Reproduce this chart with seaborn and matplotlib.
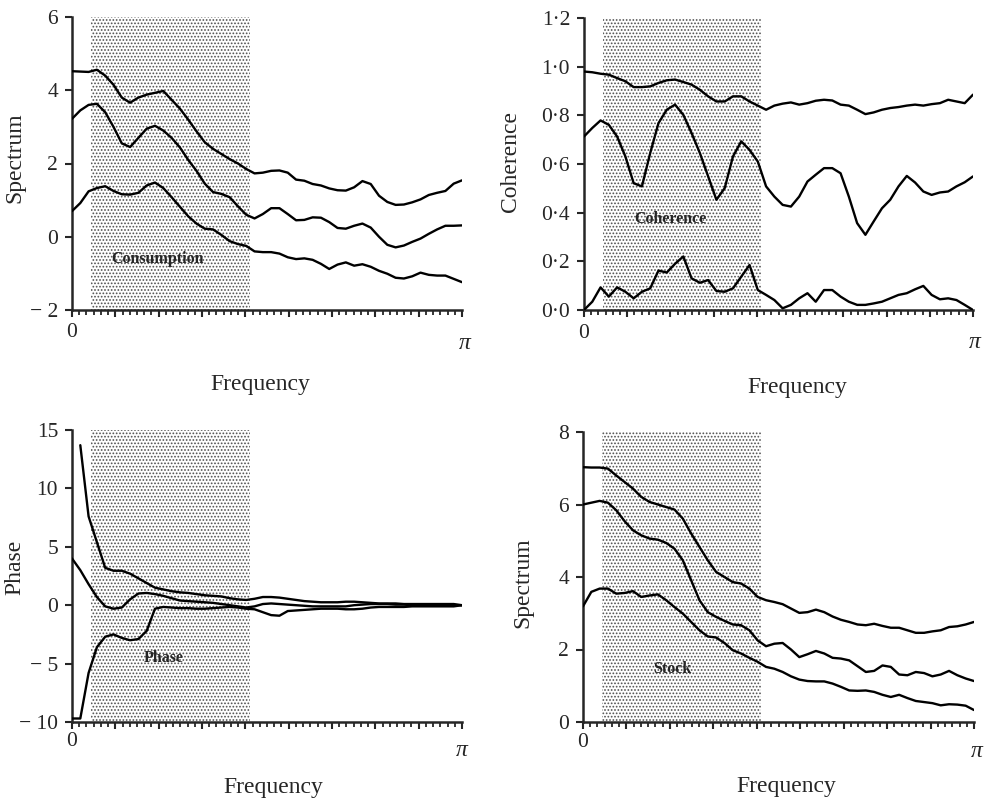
import numpy as np
import pandas as pd
import seaborn as sns
import matplotlib.pyplot as plt

# Frequency grid (0..pi) and the shaded band
freq = np.linspace(0, np.pi, 48)
band_lo, band_hi = 0.15, 1.43

# Consumption spectrum (upper band, estimate, lower band)
cons_upper = [4.52, 4.51, 4.50, 4.56, 4.40, 4.15, 3.80, 3.66, 3.80, 3.88, 3.93, 3.98,
              3.74, 3.50, 3.20, 2.88, 2.58, 2.40, 2.26, 2.12, 2.00, 1.85, 1.73, 1.75,
              1.80, 1.81, 1.75, 1.56, 1.53, 1.44, 1.40, 1.32, 1.27, 1.26, 1.35, 1.52,
              1.44, 1.12, 0.95, 0.87, 0.88, 0.94, 1.02, 1.14, 1.20, 1.25, 1.45, 1.54]
cons_mid = [3.22, 3.45, 3.60, 3.63, 3.40, 3.00, 2.55, 2.45, 2.70, 2.95, 3.03, 2.90,
            2.70, 2.44, 2.10, 1.80, 1.45, 1.22, 1.17, 1.08, 0.83, 0.60, 0.50, 0.62,
            0.78, 0.78, 0.62, 0.45, 0.46, 0.53, 0.52, 0.40, 0.24, 0.22, 0.30, 0.36,
            0.25, 0.00, -0.22, -0.29, -0.24, -0.14, -0.05, 0.08, 0.20, 0.30, 0.30, 0.31]
cons_lower = [0.70, 0.92, 1.24, 1.33, 1.38, 1.25, 1.16, 1.15, 1.20, 1.40, 1.48, 1.33,
              1.08, 0.82, 0.56, 0.36, 0.22, 0.20, 0.05, -0.12, -0.20, -0.25, -0.40, -0.42,
              -0.42, -0.46, -0.56, -0.61, -0.59, -0.63, -0.74, -0.88, -0.76, -0.70, -0.79, -0.75,
              -0.82, -0.93, -1.01, -1.12, -1.14, -1.08, -0.98, -1.04, -1.06, -1.06, -1.15, -1.24]

# Coherence
coh_upper = [0.98, 0.977, 0.971, 0.967, 0.953, 0.94, 0.916, 0.916, 0.919, 0.933, 0.944, 0.947,
             0.937, 0.926, 0.905, 0.878, 0.857, 0.857, 0.878, 0.878, 0.857, 0.840, 0.823, 0.840,
             0.848, 0.853, 0.844, 0.850, 0.860, 0.864, 0.861, 0.844, 0.840, 0.823, 0.805, 0.812,
             0.823, 0.830, 0.834, 0.840, 0.844, 0.840, 0.846, 0.850, 0.864, 0.857, 0.850, 0.885]
coh_mid = [0.713, 0.748, 0.779, 0.761, 0.713, 0.631, 0.521, 0.508, 0.645, 0.768, 0.823, 0.844,
           0.802, 0.727, 0.645, 0.549, 0.453, 0.501, 0.631, 0.693, 0.658, 0.610, 0.508, 0.466,
           0.432, 0.425, 0.466, 0.528, 0.556, 0.583, 0.583, 0.562, 0.466, 0.357, 0.309, 0.364,
           0.418, 0.453, 0.508, 0.551, 0.524, 0.487, 0.473, 0.483, 0.487, 0.508, 0.525, 0.549]
coh_lower = [0.0, 0.034, 0.093, 0.055, 0.093, 0.075, 0.048, 0.075, 0.089, 0.162, 0.154, 0.19,
             0.22, 0.130, 0.112, 0.123, 0.078, 0.075, 0.089, 0.137, 0.185, 0.082, 0.062, 0.041,
             0.007, 0.021, 0.048, 0.069, 0.034, 0.082, 0.082, 0.055, 0.034, 0.021, 0.021, 0.027,
             0.034, 0.048, 0.062, 0.069, 0.085, 0.099, 0.062, 0.044, 0.048, 0.041, 0.021, 0.0]

# Phase
phase_upper = [np.nan, 13.7, 7.6, 5.4, 3.2, 2.95, 2.95, 2.7, 2.3, 1.9, 1.5, 1.35,
               1.2, 1.1, 1.05, 0.95, 0.85, 0.8, 0.75, 0.6, 0.5, 0.45, 0.55, 0.7,
               0.7, 0.65, 0.55, 0.45, 0.35, 0.3, 0.25, 0.25, 0.25, 0.3, 0.3, 0.25,
               0.2, 0.15, 0.15, 0.15, 0.1, 0.1, 0.1, 0.1, 0.1, 0.1, 0.1, 0.0]
phase_mid = [4.0, 3.0, 1.8, 0.7, -0.1, -0.3, -0.2, 0.5, 1.0, 1.05, 0.95, 0.8,
             0.6, 0.4, 0.35, 0.3, 0.25, 0.2, 0.1, 0.0, -0.1, -0.2, -0.1, 0.1,
             0.15, 0.1, 0.05, 0.0, -0.05, -0.1, -0.1, -0.1, -0.1, -0.1, 0.0, 0.05,
             0.1, 0.1, 0.1, 0.05, 0.05, 0.0, 0.0, 0.0, 0.0, 0.0, 0.0, 0.0]
phase_lower = [-9.7, -9.7, -5.8, -3.6, -2.7, -2.5, -2.8, -3.0, -2.9, -2.2, -0.3, -0.15,
               -0.2, -0.25, -0.25, -0.3, -0.3, -0.25, -0.2, -0.15, -0.2, -0.3, -0.35, -0.6,
               -0.85, -0.9, -0.5, -0.45, -0.4, -0.35, -0.3, -0.3, -0.3, -0.35, -0.35, -0.3,
               -0.2, -0.15, -0.15, -0.15, -0.15, -0.1, -0.1, -0.1, -0.1, -0.1, -0.1, 0.0]

# Stock spectrum
stock_upper = [7.03, 7.02, 7.02, 6.99, 6.80, 6.62, 6.44, 6.21, 6.07, 6.00, 5.93, 5.86,
               5.61, 5.20, 4.83, 4.46, 4.14, 4.00, 3.86, 3.82, 3.68, 3.45, 3.36, 3.31,
               3.25, 3.13, 3.01, 3.03, 3.10, 3.03, 2.91, 2.82, 2.76, 2.69, 2.67, 2.71,
               2.65, 2.60, 2.60, 2.53, 2.46, 2.46, 2.50, 2.53, 2.62, 2.64, 2.69, 2.76]
stock_mid = [6.00, 6.05, 6.10, 6.05, 5.84, 5.54, 5.29, 5.15, 5.06, 5.03, 4.94, 4.78,
             4.46, 3.91, 3.36, 3.03, 2.90, 2.79, 2.69, 2.67, 2.53, 2.25, 2.09, 2.16,
             2.18, 2.00, 1.79, 1.87, 1.96, 1.89, 1.77, 1.75, 1.70, 1.54, 1.38, 1.41,
             1.56, 1.52, 1.31, 1.29, 1.38, 1.35, 1.26, 1.31, 1.41, 1.29, 1.20, 1.13]
stock_lower = [3.19, 3.59, 3.68, 3.68, 3.54, 3.56, 3.61, 3.45, 3.49, 3.52, 3.36, 3.17,
               2.99, 2.76, 2.53, 2.36, 2.33, 2.18, 1.98, 1.89, 1.77, 1.66, 1.52, 1.47,
               1.38, 1.26, 1.17, 1.13, 1.12, 1.12, 1.06, 0.97, 0.87, 0.86, 0.87, 0.83,
               0.75, 0.69, 0.75, 0.66, 0.58, 0.55, 0.52, 0.46, 0.49, 0.48, 0.45, 0.33]

SERIF = ["Liberation Serif", "DejaVu Serif"]

sns.set_style("ticks")
plt.rcParams["font.family"] = SERIF
plt.rcParams["hatch.linewidth"] = 0.8

fig = plt.figure(figsize=(9.91, 8.01), dpi=100)

# one dict per panel: axes rect, data, axis limits/labels and where the texts go
panels = [
    dict(rect=[72/991, 1-310/801, 390/991, 293/801], curves=[cons_upper, cons_mid, cons_lower],
         ylim=(-2, 6), yticks=[-2, 0, 2, 4, 6], ylabels=["\u2212 2", "0", "2", "4", "6"],
         ylabel="Spectrum", ylab_xy=(-0.146, 0.52), tag="Consumption", tag_xy=(0.218, 0.174),
         freq_xy=(0.482, -0.253), zero_y=-0.078, pi_xy=(1.008, -0.113)),
    dict(rect=[584/991, 1-310/801, 389/991, 292/801], curves=[coh_upper, coh_mid, coh_lower],
         ylim=(0, 1.2), yticks=[0, 0.2, 0.4, 0.6, 0.8, 1.0, 1.2],
         ylabels=["0\u00b70", "0\u00b72", "0\u00b74", "0\u00b76", "0\u00b78", "1\u00b70", "1\u00b72"],
         ylabel="Coherence", ylab_xy=(-0.19, 0.51), tag="Coherence", tag_xy=(0.221, 0.312),
         freq_xy=(0.548, -0.264), zero_y=-0.079, pi_xy=(1.005, -0.113)),
    dict(rect=[72/991, 1-722/801, 390/991, 292/801], curves=[phase_upper, phase_mid, phase_lower],
         ylim=(-10, 15), yticks=[-10, -5, 0, 5, 10, 15],
         ylabels=["\u2212 10", "\u2212 5", "0", "5", "10", "15"],
         ylabel="Phase", ylab_xy=(-0.146, 0.53), tag="Phase", tag_xy=(0.236, 0.219),
         freq_xy=(0.515, -0.223), zero_y=-0.068, pi_xy=(1.0, -0.099)),
    dict(rect=[583/991, 1-722/801, 391/991, 290/801], curves=[stock_upper, stock_mid, stock_lower],
         ylim=(0, 8), yticks=[0, 2, 4, 6, 8], ylabels=["0", "2", "4", "6", "8"],
         ylabel="Spectrum", ylab_xy=(-0.153, 0.48), tag="Stock", tag_xy=(0.228, 0.183),
         freq_xy=(0.52, -0.224), zero_y=-0.069, pi_xy=(1.008, -0.103)),
]

minor_ticks = np.linspace(0, np.pi, 55)
major_ticks = minor_ticks[::6]

for p in panels:
    ax = fig.add_axes(p["rect"])
    df = pd.DataFrame({
        "freq": np.tile(freq, 3),
        "value": np.concatenate([np.asarray(c, dtype=float) for c in p["curves"]]),
        "curve": np.repeat(["upper", "mid", "lower"], len(freq)),
    })
    # stippled frequency band
    ax.axvspan(band_lo, band_hi, facecolor="white", edgecolor="#505050",
               hatch=".....", linewidth=0, zorder=0)
    sns.lineplot(data=df, x="freq", y="value", hue="curve", palette=["black"] * 3,
                 legend=False, linewidth=1.7, ax=ax, zorder=3)
    ax.set_xlim(0, np.pi)
    ax.set_ylim(*p["ylim"])
    ax.set_xlabel("")
    ax.set_ylabel("")
    sns.despine(ax=ax)
    for s in ["left", "bottom"]:
        ax.spines[s].set_linewidth(1.8)
    ax.set_yticks(p["yticks"])
    ax.set_yticklabels(p["ylabels"], fontsize=15.5)
    ax.tick_params(axis="y", direction="out", length=5, width=1.5, pad=5)
    ax.set_xticks(major_ticks)
    ax.set_xticks(minor_ticks, minor=True)
    ax.set_xticklabels([])
    ax.tick_params(axis="x", which="major", direction="out", length=5, width=1.5)
    ax.tick_params(axis="x", which="minor", direction="out", length=3.5, width=1.3)

    ax.text(p["ylab_xy"][0], p["ylab_xy"][1], p["ylabel"], transform=ax.transAxes,
            rotation=90, ha="center", va="center", fontsize=17)
    ax.text(p["freq_xy"][0], p["freq_xy"][1], "Frequency", transform=ax.transAxes,
            ha="center", va="center", fontsize=17)
    ax.text(0, p["zero_y"], "0", transform=ax.transAxes, ha="center", va="center", fontsize=15.5)
    ax.text(p["pi_xy"][0], p["pi_xy"][1], "\u03c0", transform=ax.transAxes,
            ha="center", va="center", fontsize=17, style="italic")
    ax.text(p["tag_xy"][0], p["tag_xy"][1], p["tag"], transform=ax.transAxes,
            ha="center", va="center", fontsize=11.5, fontweight="bold", zorder=4)

fig.savefig("out.png", dpi=100)
